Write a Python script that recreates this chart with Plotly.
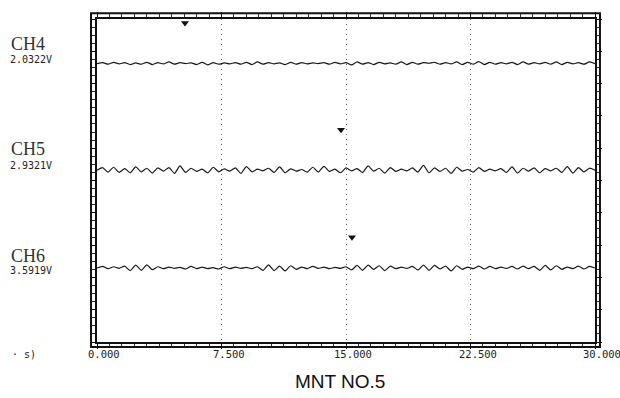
import numpy as np
import plotly.graph_objects as go

# ---- data ----
x_ticks = [0, 7.5, 15, 22.5, 30]
x_tick_labels = ["0.000", "7.500", "15.000", "22.500", "30.000"]

channels = ["CH4", "CH5", "CH6"]
channel_volts = ["2.0322V", "2.9321V", "3.5919V"]
baselines = [8.62, 5.32, 2.29]          # trace levels in divisions (0..10)

# deviations in hundredths of a division
ch4_dev = [0,3,-2,4,-1,3,-3,2,-2,4,-3,3,-1,5,-2,3,0,2,-3,4,-4,3,-2,2,-1,3,-2,4,-3,5,
           -2,3,-1,2,-3,4,-2,3,-1,2,0,3,-2,4,-1,3,-4,5,-2,3,-3,4,-1,2,-2,5,-3,4,-2,3,
           1,4,-2,3,-1,5,-3,4,-2,6,-3,4,-2,3,-1,4,-3,5,-2,3,-1,4,-2,5,-3,4,-1,3,-2,5,0]
ch5_dev = [0,8,-6,9,-7,5,-8,10,-5,6,-9,7,-3,8,-10,13,-7,6,-4,3,-8,9,-5,4,-3,7,-10,11,-5,3,
           -2,6,-7,10,-8,4,-3,2,-6,9,-6,12,-4,3,-8,7,-2,5,-7,13,-3,6,-9,8,-4,3,-2,7,-6,15,
           -8,7,-4,6,-10,9,-3,2,-6,8,-4,3,-2,5,-7,10,-9,6,-3,7,-8,5,-2,6,-7,11,-9,8,-5,6,0]
ch6_dev = [0,5,-2,4,-1,6,-8,9,-7,10,-5,4,-2,3,-1,2,-3,5,-2,3,-2,1,-3,4,-2,3,-1,2,-2,4,
           -7,10,-8,6,-9,7,-4,3,-2,5,-1,3,-2,2,-1,4,-6,8,-7,9,-4,7,-8,6,-2,3,-1,5,-6,9,
           -7,8,-3,6,-9,7,-4,3,-2,6,-3,5,-2,3,-1,5,-3,6,-2,5,-7,8,-6,7,-4,3,-2,6,-3,5,0]

trigger_x = [5.30, 14.70, 15.36]
trigger_y = [9.88, 6.57, 3.24]

# ---- figure ----
fig = go.Figure()
for dev, base in zip([ch4_dev, ch5_dev, ch6_dev], baselines):
    t = np.linspace(0, 30, len(dev))
    y = base + np.array(dev) / 100.0
    fig.add_trace(go.Scatter(x=t, y=y, mode="lines",
                             line=dict(color="#1a1a1a", width=1.2, shape="spline", smoothing=0.6),
                             showlegend=False, hoverinfo="skip"))

fig.add_trace(go.Scatter(x=trigger_x, y=trigger_y, mode="markers",
                         marker=dict(symbol="triangle-down", size=7, color="#111"),
                         showlegend=False, hoverinfo="skip"))

fig.update_layout(
    width=620, height=398,
    margin=dict(l=97, r=25, t=15, b=56),
    paper_bgcolor="white", plot_bgcolor="white",
    showlegend=False,
)

fig.update_xaxes(
    range=[0, 30], tickvals=x_ticks, showticklabels=False,
    showline=True, linecolor="#111", linewidth=2, mirror="ticks",
    ticks="outside", ticklen=5, tickcolor="#111", tickwidth=1,
    minor=dict(dtick=0.75, ticks="outside", ticklen=3, tickcolor="#333", showgrid=False),
    showgrid=True, gridcolor="#666", griddash="1px,4px", gridwidth=1,
    zeroline=False,
)
fig.update_yaxes(
    range=[0, 10], dtick=1, showticklabels=False,
    showline=True, linecolor="#111", linewidth=2, mirror="ticks",
    ticks="outside", ticklen=5, tickcolor="#111", tickwidth=1,
    minor=dict(dtick=0.25, ticks="outside", ticklen=3, tickcolor="#333", showgrid=False),
    showgrid=False, zeroline=False,
)

# x tick labels (slightly right of their ticks, as in the original)
for xv, lab in zip(x_ticks, x_tick_labels):
    fig.add_annotation(text=lab, x=xv, xref="x", yref="paper", y=-0.038,
                       xanchor="center", yanchor="middle", xshift=7, showarrow=False,
                       font=dict(family="DejaVu Sans Mono", size=10.5, color="#222"))

# outer frame of the ruler border
fig.add_shape(type="rect", xref="paper", yref="paper",
              x0=-0.012, x1=1.010, y0=-0.0153, y1=1.018,
              line=dict(color="#111", width=2), fillcolor="rgba(0,0,0,0)")

# channel labels
label_y = [(0.924, 0.875), (0.596, 0.547), (0.266, 0.220)]
for name, volt, (yn, yv) in zip(channels, channel_volts, label_y):
    fig.add_annotation(text=name, xref="paper", yref="paper", x=-0.177, y=yn,
                       xanchor="left", yanchor="middle", showarrow=False,
                       font=dict(family="Liberation Serif", size=18, color="#333"))
    fig.add_annotation(text=volt, xref="paper", yref="paper", x=-0.178, y=yv,
                       xanchor="left", yanchor="middle", showarrow=False,
                       font=dict(family="DejaVu Sans Mono", size=10, color="#222"))

fig.add_annotation(text="· s)", xref="paper", yref="paper", x=-0.175, y=-0.038,
                   xanchor="left", yanchor="middle", showarrow=False,
                   font=dict(family="DejaVu Sans Mono", size=10, color="#222"))

fig.add_annotation(text="MNT NO.5", xref="paper", yref="paper", x=0.488, y=-0.122,
                   xanchor="center", yanchor="middle", showarrow=False,
                   font=dict(family="Liberation Sans", size=19, color="#111"))

fig.write_html("out.html")
